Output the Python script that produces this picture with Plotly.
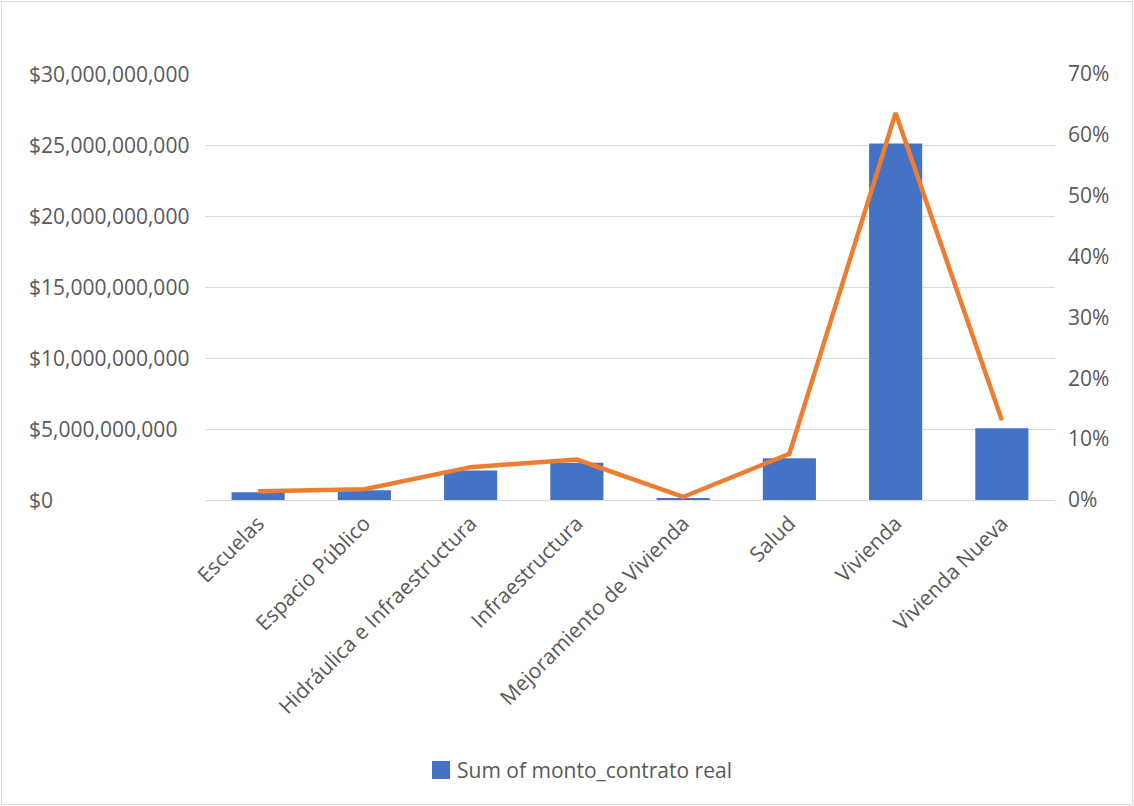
import plotly.graph_objects as go

categories = ["Escuelas", "Espacio Público", "Hidráulica e Infraestructura", "Infraestructura",
              "Mejoramiento de Vivienda", "Salud", "Vivienda", "Vivienda Nueva"]
monto_contrato = [0.55e9, 0.69e9, 2.08e9, 2.62e9, 0.13e9, 2.94e9, 25.1e9, 5.06e9]
porcentaje = [0.0145, 0.0177, 0.054, 0.0665, 0.005, 0.076, 0.636, 0.131]
monto_ticks = [0, 5e9, 10e9, 15e9, 20e9, 25e9, 30e9]
serie_nombre = "Sum of monto_contrato real"

FONT = "'Open Sans', sans-serif"
FS = 21
TEXT = "#595959"
W, H = 1134, 806
L, R, T, B = 205, 1055, 74, 500  # plot area in pixels


def px(x):
    return (x - L) / (R - L)


def py(y):
    return (B - y) / (B - T)


fig = go.Figure()
fig.add_trace(go.Bar(
    x=categories, y=monto_contrato, name=serie_nombre,
    marker=dict(color="#4472C4", line=dict(width=0)), width=0.5, showlegend=False,
))
fig.add_trace(go.Scatter(
    x=categories, y=porcentaje, yaxis="y2", mode="lines",
    line=dict(color="#ED7D31", width=4.5), showlegend=False,
))

# left-aligned value labels for the primary axis
annotations = [
    dict(xref="paper", yref="y", x=px(27), y=v, xanchor="left", yanchor="middle",
         text=f"${v:,.0f}", showarrow=False, font=dict(family=FONT, size=FS, color=TEXT))
    for v in monto_ticks
]
# legend entry for the bar series
annotations.append(dict(xref="paper", yref="paper", x=px(455), y=py(770), xanchor="left",
                        yanchor="middle", text=serie_nombre, showarrow=False,
                        font=dict(family=FONT, size=FS, color=TEXT)))

shapes = [
    dict(type="rect", xref="paper", yref="paper", x0=px(432), x1=px(450), y0=py(779), y1=py(761),
         line=dict(width=0), fillcolor="#4472C4"),
    dict(type="rect", xref="paper", yref="paper", x0=px(1.5), x1=px(1132.5), y0=py(804.5), y1=py(1.5),
         line=dict(color="#D9D9D9", width=1), fillcolor="rgba(0,0,0,0)"),
]

fig.update_layout(
    width=W, height=H,
    margin=dict(l=L, r=W - R, t=T, b=H - B),
    paper_bgcolor="white", plot_bgcolor="white",
    font=dict(family=FONT, size=FS, color=TEXT),
    bargap=0.5,
    xaxis=dict(tickangle=-45, showgrid=False, showline=False, ticks="", ticklabelstandoff=6,
               tickfont=dict(family=FONT, size=FS, color=TEXT)),
    yaxis=dict(range=[0, 30e9], tickvals=monto_ticks, showticklabels=False,
               gridcolor="#D9D9D9", gridwidth=1, zeroline=True, zerolinecolor="#D9D9D9",
               zerolinewidth=1, showline=False, ticks=""),
    yaxis2=dict(range=[0, 0.7], dtick=0.1, tickformat=".0%", overlaying="y", side="right",
                showgrid=False, zeroline=False, showline=False, ticks="",
                ticklabelstandoff=12, tickfont=dict(family=FONT, size=FS, color=TEXT)),
    annotations=annotations,
    shapes=shapes,
    showlegend=False,
)

fig.write_html("out.html")
